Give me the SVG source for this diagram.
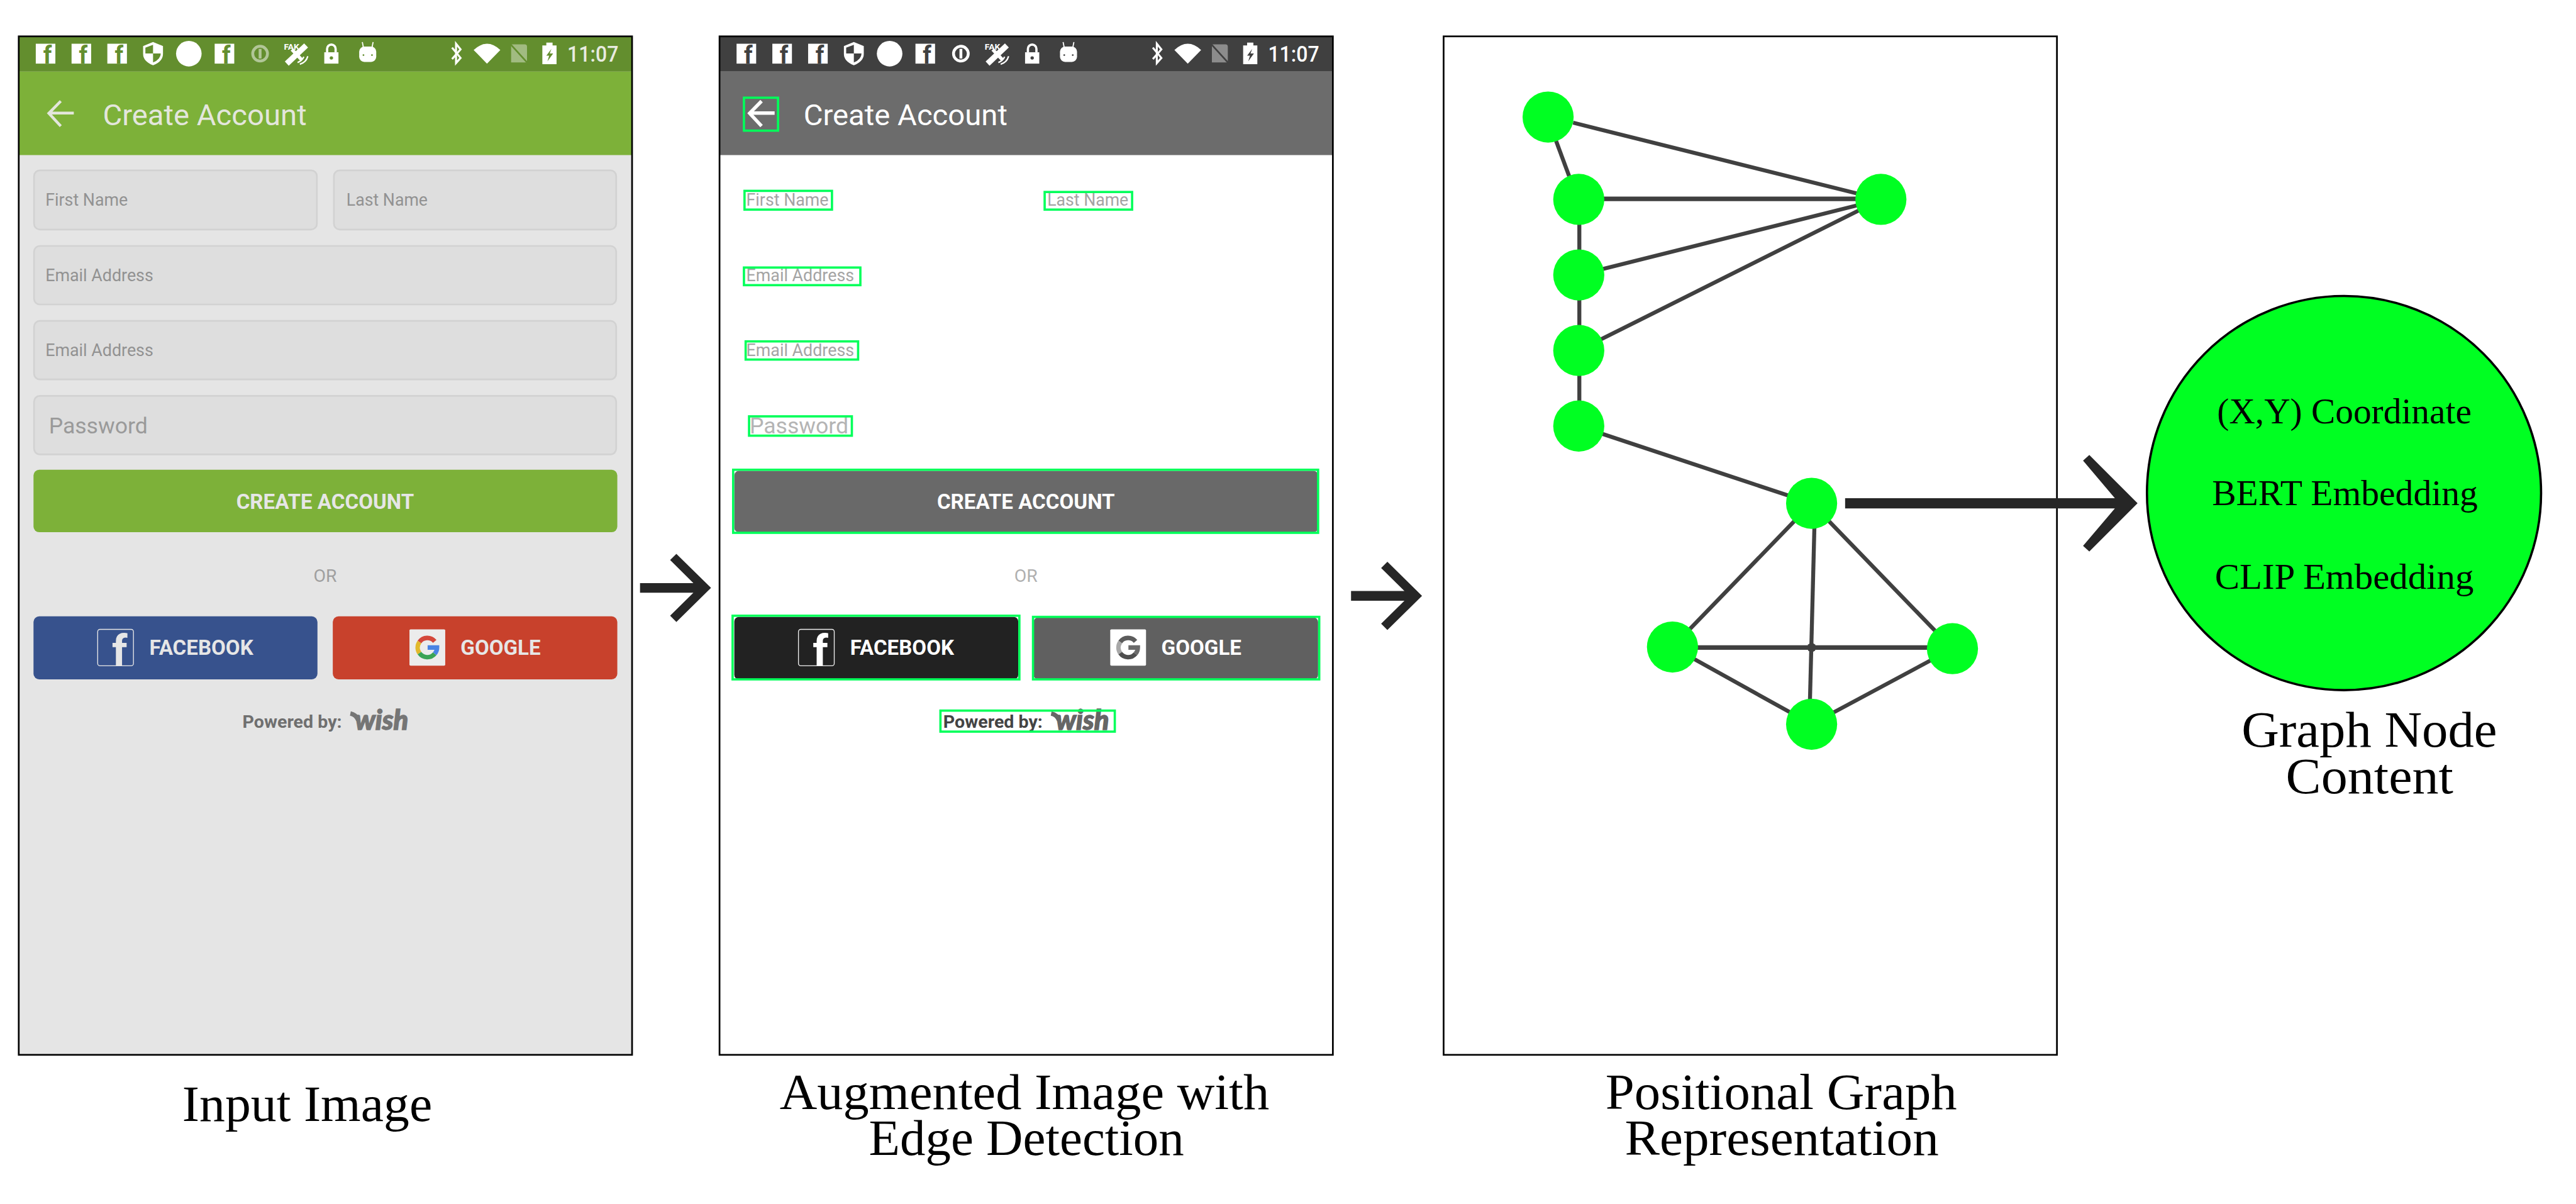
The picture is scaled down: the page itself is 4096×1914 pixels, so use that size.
<svg xmlns="http://www.w3.org/2000/svg" width="4096" height="1914" viewBox="0 0 4096 1914">
<style>
text{font-family:Roboto,"Liberation Sans",sans-serif}
.cap{font-family:"Liberation Serif",serif;font-size:90px;fill:#000}
.in{font-family:"Liberation Serif",serif;font-size:64px;fill:#000}
.frame{fill:none;stroke:#000;stroke-width:3}
.field{fill:#dedede;stroke:#d2d2d2;stroke-width:3}
.ph{font-size:30px;fill:#929292}
.pw{font-size:39px;fill:#9a9a9a}
.a .ph{fill:#929292}
.b .ph{fill:#a4a4a4}
.b .pw{fill:#b4b4b4}
.btn{font-size:36px;font-weight:700}
.a .btn{fill:#e6e6e6}
.b .btn{fill:#fff}
.title{font-size:52px}
.a .title{fill:#e3e6dc}
.b .title{fill:#fff}
.time{font-size:38px;font-weight:500}
.a .time{fill:#e8ebe0}
.b .time{fill:#fff}
.a .w{fill:#fff}
.b .w{fill:#fff}
.a .bar{fill:#638e2e}
.b .bar{fill:#404040}
.ws{fill:none;stroke:#fff}
.a .bs{fill:none;stroke:#638e2e}
.b .bs{fill:none;stroke:#404040}
.fi{font-weight:700;font-size:42px}
.box{fill:none;stroke:#00ff5a;stroke-width:4}
.edge{stroke:#404040;stroke-width:7;fill:none}
.dot{fill:#00ff22}
.arrow{fill:#262626}
</style>
<defs>
<polygon id="arr" points="-125,-8.5 -31,-8.5 -72,-49 -61,-60 0,0 -61,60 -72,49 -31,8.5 -125,8.5"/>
</defs>
<g transform="scale(0.903)">
<rect width="4536" height="2120" fill="#fff"/>

<g id="input-image" class="a">
  <rect x="33" y="64" width="1080" height="1793" fill="#e5e5e5"/>
  <rect x="33" y="64" width="1080" height="62" fill="#638e2e"/>
  <rect x="33" y="126" width="1080" height="147" fill="#7db139"/>
  <g>
    <rect class="w" x="63" y="77" width="34.500" height="35"/><text class="bar fi" x="76" y="112">f</text>
    <rect class="w" x="126" y="77" width="34.500" height="35"/><text class="bar fi" x="139" y="112">f</text>
    <rect class="w" x="189" y="77" width="34.500" height="35"/><text class="bar fi" x="202" y="112">f</text>
    <path class="w" d="M269.500 74L287 81V95Q287 108 269.500 115Q252 108 252 95V81Z"/>
    <path class="bar" d="M256 84L269.500 79V94H256ZM269.500 94H283Q283 104 269.500 110Z"/>
    <circle class="w" cx="332.500" cy="94.500" r="22.500"/>
    <rect class="w" x="378" y="77" width="34.500" height="35"/><text class="bar fi" x="391" y="112">f</text>
    <g opacity="0.5"><circle cx="458" cy="94.500" r="13" class="ws" stroke-width="5"/><rect class="w" x="455.500" y="86" width="5" height="17"/></g>
    <text class="w" x="500" y="87" font-size="14" font-weight="700" textLength="27" lengthAdjust="spacingAndGlyphs">FAK</text>
    <path class="ws" d="M505 112L539 80" stroke-width="10"/>
    <path class="ws" d="M514 87L531 105" stroke-width="6"/>
    <path class="ws" d="M528 113Q539 110 542 99M524 110Q532 107 535 100" stroke-width="2.500"/>
    <path class="w" d="M571 92H596V112H571Z"/><path class="ws" d="M576 92V86A7.500 7.500 0 0 1 591 86V92" stroke-width="4"/><circle class="bar" cx="583.500" cy="102" r="3"/>
    <rect class="w" x="632.500" y="82" width="30" height="27" rx="9"/>
    <path class="ws" d="M638 74L640 84M657 74L655 84" stroke-width="2"/>
    <circle class="bar" cx="640" cy="97" r="1.500"/><circle class="bar" cx="655" cy="97" r="1.500"/>
    <path class="ws" d="M796 84L811 102L803 111V77L811 87L796 104" stroke-width="3.500"/>
    <path class="w" d="M834 88Q857.500 66 881 88L857.500 112Z"/>
    <path class="w" opacity="0.4" d="M900 78H924Q928 78 928 82V110H900Z"/>
    <path class="bs" d="M899 78L931 113" stroke-width="3"/>
    <rect class="w" x="955" y="80" width="25" height="33"/><rect class="w" x="962" y="75" width="11" height="6"/>
    <polygon class="bar" points="971,86 962,98 967,98 964,108 974,94 968,94"/>
    <text class="time" x="999" y="109" textLength="90" lengthAdjust="spacingAndGlyphs">11:07</text>
  </g>
  <path d="M130 199H88M107 178L86 199.500L107 222" fill="none" stroke="#e3e6dc" stroke-width="5"/>
  <text class="title" x="181" y="220" textLength="359" lengthAdjust="spacingAndGlyphs">Create Account</text>
  <rect class="field" x="60" y="300" width="498" height="104" rx="10"/>
  <rect class="field" x="588" y="300" width="497" height="104" rx="10"/>
  <rect class="field" x="60" y="433" width="1025" height="103" rx="10"/>
  <rect class="field" x="60" y="565" width="1025" height="103" rx="10"/>
  <rect class="field" x="60" y="697" width="1025" height="103" rx="10"/>
  <text class="ph" x="80" y="362" textLength="145" lengthAdjust="spacingAndGlyphs">First Name</text>
  <text class="ph" x="610" y="362" textLength="143" lengthAdjust="spacingAndGlyphs">Last Name</text>
  <text class="ph" x="80" y="495" textLength="190" lengthAdjust="spacingAndGlyphs">Email Address</text>
  <text class="ph" x="80" y="627" textLength="190" lengthAdjust="spacingAndGlyphs">Email Address</text>
  <text class="pw" x="86" y="763" textLength="174" lengthAdjust="spacingAndGlyphs">Password</text>
  <rect x="59" y="827" width="1028" height="110" rx="10" fill="#7db139"/>
  <text class="btn" x="416" y="896" textLength="313" lengthAdjust="spacingAndGlyphs">CREATE ACCOUNT</text>
  <text x="552" y="1024" font-size="31" fill="#a0a0a0" textLength="41" lengthAdjust="spacingAndGlyphs">OR</text>
  <rect x="59" y="1085" width="500" height="111" rx="10" fill="#37528d"/>
  <rect x="172" y="1108" width="63" height="64" rx="4" fill="none" stroke="#e6e6e6" stroke-width="1.500"/>
  <text x="197" y="1172" font-size="76" font-weight="700" fill="#e6e6e6">f</text>
  <text class="btn" x="263" y="1153" textLength="183" lengthAdjust="spacingAndGlyphs">FACEBOOK</text>
  <rect x="586" y="1085" width="501" height="111" rx="10" fill="#c8412c"/>
  <rect x="721" y="1108" width="63" height="64" rx="2" fill="#ececec"/>
  <g fill="none" stroke-width="8">
    <path stroke="#d4473a" d="M765.500 1129.100A17 17 0 0 0 738.600 1130.200"/>
    <path stroke="#e2b92c" d="M738.600 1130.200A17 17 0 0 0 738.600 1149.800"/>
    <path stroke="#3aa455" d="M738.600 1149.800A17 17 0 0 0 765.500 1150.900"/>
    <path stroke="#4a84e4" d="M765.500 1150.900A17 17 0 0 0 769.500 1140H753"/>
  </g>
  <text class="btn" x="811" y="1153" textLength="141" lengthAdjust="spacingAndGlyphs">GOOGLE</text>
  <text x="427" y="1281" font-size="30" font-weight="700" fill="#6f6f6f" textLength="175" lengthAdjust="spacingAndGlyphs">Powered by:</text>
  <path d="M617 1256Q627 1258 631 1268" fill="none" stroke="#757575" stroke-width="8"/>
  <text x="625" y="1285" font-size="48" font-weight="900" font-style="italic" fill="#757575" stroke="#757575" stroke-width="1.500" textLength="94" lengthAdjust="spacingAndGlyphs" style="font-family:Lato,sans-serif">wish</text>
  <rect class="frame" x="33" y="64" width="1080" height="1793"/>
</g>

<g id="augmented-image" class="b">
  <rect x="1267" y="64" width="1080" height="62" fill="#404040"/>
  <rect x="1267" y="126" width="1080" height="147" fill="#6c6c6c"/>
  <g transform="translate(1234 0)">
    <rect class="w" x="63" y="77" width="34.500" height="35"/><text class="bar fi" x="76" y="112">f</text>
    <rect class="w" x="126" y="77" width="34.500" height="35"/><text class="bar fi" x="139" y="112">f</text>
    <rect class="w" x="189" y="77" width="34.500" height="35"/><text class="bar fi" x="202" y="112">f</text>
    <path class="w" d="M269.500 74L287 81V95Q287 108 269.500 115Q252 108 252 95V81Z"/>
    <path class="bar" d="M256 84L269.500 79V94H256ZM269.500 94H283Q283 104 269.500 110Z"/>
    <circle class="w" cx="332.500" cy="94.500" r="22.500"/>
    <rect class="w" x="378" y="77" width="34.500" height="35"/><text class="bar fi" x="391" y="112">f</text>
    <circle cx="458" cy="94.500" r="13" class="ws" stroke-width="5"/><rect class="w" x="455.500" y="86" width="5" height="17"/>
    <text class="w" x="500" y="87" font-size="14" font-weight="700" textLength="27" lengthAdjust="spacingAndGlyphs">FAK</text>
    <path class="ws" d="M505 112L539 80" stroke-width="10"/>
    <path class="ws" d="M514 87L531 105" stroke-width="6"/>
    <path class="ws" d="M528 113Q539 110 542 99M524 110Q532 107 535 100" stroke-width="2.500"/>
    <path class="w" d="M571 92H596V112H571Z"/><path class="ws" d="M576 92V86A7.500 7.500 0 0 1 591 86V92" stroke-width="4"/><circle class="bar" cx="583.500" cy="102" r="3"/>
    <rect class="w" x="632.500" y="82" width="30" height="27" rx="9"/>
    <path class="ws" d="M638 74L640 84M657 74L655 84" stroke-width="2"/>
    <circle class="bar" cx="640" cy="97" r="1.500"/><circle class="bar" cx="655" cy="97" r="1.500"/>
    <path class="ws" d="M796 84L811 102L803 111V77L811 87L796 104" stroke-width="3.500"/>
    <path class="w" d="M834 88Q857.500 66 881 88L857.500 112Z"/>
    <path class="w" opacity="0.4" d="M900 78H924Q928 78 928 82V110H900Z"/>
    <path class="bs" d="M899 78L931 113" stroke-width="3"/>
    <rect class="w" x="955" y="80" width="25" height="33"/><rect class="w" x="962" y="75" width="11" height="6"/>
    <polygon class="bar" points="971,86 962,98 967,98 964,108 974,94 968,94"/>
    <text class="time" x="999" y="109" textLength="90" lengthAdjust="spacingAndGlyphs">11:07</text>
  </g>
  <path d="M1364 199H1322M1341 178L1320 199.500L1341 222" fill="none" stroke="#fff" stroke-width="6"/>
  <text class="title" x="1415" y="220" textLength="359" lengthAdjust="spacingAndGlyphs">Create Account</text>
  <text class="ph" x="1314" y="362" textLength="145" lengthAdjust="spacingAndGlyphs">First Name</text>
  <text class="ph" x="1844" y="362" textLength="143" lengthAdjust="spacingAndGlyphs">Last Name</text>
  <text class="ph" x="1314" y="495" textLength="190" lengthAdjust="spacingAndGlyphs">Email Address</text>
  <text class="ph" x="1314" y="627" textLength="190" lengthAdjust="spacingAndGlyphs">Email Address</text>
  <text class="pw" x="1320" y="763" textLength="174" lengthAdjust="spacingAndGlyphs">Password</text>
  <rect x="1293" y="829" width="1028" height="108" rx="8" fill="#696969"/>
  <text class="btn" x="1650" y="896" textLength="313" lengthAdjust="spacingAndGlyphs">CREATE ACCOUNT</text>
  <text x="1786" y="1024" font-size="31" fill="#b0b0b0" textLength="41" lengthAdjust="spacingAndGlyphs">OR</text>
  <rect x="1293" y="1086" width="500" height="110" rx="8" fill="#222"/>
  <rect x="1406" y="1108" width="63" height="64" rx="4" fill="none" stroke="#eee" stroke-width="1.500"/>
  <text x="1431" y="1172" font-size="76" font-weight="700" fill="#fff">f</text>
  <text class="btn" x="1497" y="1153" textLength="183" lengthAdjust="spacingAndGlyphs">FACEBOOK</text>
  <rect x="1820" y="1087" width="501" height="109" rx="8" fill="#606060"/>
  <rect x="1955" y="1108" width="63" height="64" rx="2" fill="#fff"/>
  <g fill="none" stroke-width="8" transform="translate(1234 0)">
    <path stroke="#5c5c5c" d="M765.500 1129.100A17 17 0 0 0 738.600 1130.200"/>
    <path stroke="#a8a8a8" d="M738.600 1130.200A17 17 0 0 0 738.600 1149.800"/>
    <path stroke="#4e4e4e" d="M738.600 1149.800A17 17 0 0 0 765.500 1150.900"/>
    <path stroke="#6a6a6a" d="M765.500 1150.900A17 17 0 0 0 769.500 1140H753"/>
  </g>
  <text class="btn" x="2045" y="1153" textLength="141" lengthAdjust="spacingAndGlyphs">GOOGLE</text>
  <text x="1661" y="1281" font-size="30" font-weight="700" fill="#444" textLength="175" lengthAdjust="spacingAndGlyphs">Powered by:</text>
  <path d="M1851 1256Q1861 1258 1865 1268" fill="none" stroke="#666" stroke-width="8"/>
  <text x="1859" y="1285" font-size="48" font-weight="900" font-style="italic" fill="#666" stroke="#666" stroke-width="1.500" textLength="94" lengthAdjust="spacingAndGlyphs" style="font-family:Lato,sans-serif">wish</text>
  <rect class="box" x="1310" y="172" width="60" height="58"/>
  <rect class="box" x="1311" y="336" width="154" height="33"/>
  <rect class="box" x="1839.500" y="338" width="154" height="31"/>
  <rect class="box" x="1310" y="471" width="205" height="31"/>
  <rect class="box" x="1313" y="601" width="198" height="32"/>
  <rect class="box" x="1319" y="733" width="181" height="34"/>
  <rect class="box" x="1291" y="827" width="1030" height="111"/>
  <rect class="box" x="1290" y="1084" width="505" height="112"/>
  <rect class="box" x="1819" y="1086" width="504" height="110"/>
  <rect class="box" x="1656" y="1251" width="307" height="37"/>
  <rect class="frame" x="1267" y="64" width="1080" height="1793"/>
</g>

<rect id="graph-frame" class="frame" x="2542" y="64" width="1080" height="1793"/>

<g id="connectors">
  <g class="edges">
    <path class="edge" d="M2770 216L3312 351"/>
    <path class="edge" d="M2740 248L2763 310"/>
    <path class="edge" d="M2780 350H3312" style="stroke-width:8"/>
    <path class="edge" d="M2781 351V750"/>
    <path class="edge" d="M2780 484L3312 351"/>
    <path class="edge" d="M2780 617L3312 351"/>
    <path class="edge" d="M2780 750L3190 886"/>
    <path class="edge" d="M3190 886L2945 1139"/>
    <path class="edge" d="M3190 886L3438 1142"/>
    <path class="edge" d="M3196 886L3186 1275"/>
    <path class="edge" d="M2945 1140H3438" style="stroke-width:8"/>
    <path class="edge" d="M2945 1139L3190 1275"/>
    <path class="edge" d="M3438 1142L3190 1275"/>
    <circle cx="3190" cy="1140" r="8" fill="#404040"/>
  </g>
  <use href="#arr" class="arrow" x="1252" y="1035"/>
  <use href="#arr" class="arrow" x="2504" y="1049"/>
  <path class="arrow" d="M3249 877H3724L3668 811L3679 801L3764 886L3679 971L3668 961L3724 895H3249Z"/>
</g>

<g id="graph-nodes">
  <circle id="n1" class="dot" cx="2726" cy="206" r="45"/>
  <circle id="n2" class="dot" cx="2780" cy="351" r="45"/>
  <circle id="n3" class="dot" cx="2780" cy="484" r="45"/>
  <circle id="n4" class="dot" cx="2780" cy="617" r="45"/>
  <circle id="n5" class="dot" cx="2780" cy="750" r="45"/>
  <circle id="n6" class="dot" cx="3312" cy="351" r="45"/>
  <circle id="n7" class="dot" cx="3190" cy="886" r="45"/>
  <circle id="n8" class="dot" cx="2945" cy="1139" r="45"/>
  <circle id="n9" class="dot" cx="3438" cy="1142" r="45"/>
  <circle id="n10" class="dot" cx="3190" cy="1275" r="45"/>
</g>

<g id="graph-node-content">
  <circle cx="4127.500" cy="868" r="347" class="dot" stroke="#000" stroke-width="4"/>
  <text class="in" x="3904" y="745" textLength="448" lengthAdjust="spacingAndGlyphs">(X,Y) Coordinate</text>
  <text class="in" x="3895" y="889" textLength="468" lengthAdjust="spacingAndGlyphs">BERT Embedding</text>
  <text class="in" x="3900" y="1036" textLength="456" lengthAdjust="spacingAndGlyphs">CLIP Embedding</text>
</g>

<g id="captions">
  <text class="cap" x="321" y="1973" textLength="440" lengthAdjust="spacingAndGlyphs">Input Image</text>
  <text class="cap" x="1373" y="1952" textLength="862" lengthAdjust="spacingAndGlyphs">Augmented Image with</text>
  <text class="cap" x="1530" y="2033" textLength="555" lengthAdjust="spacingAndGlyphs">Edge Detection</text>
  <text class="cap" x="2827" y="1952" textLength="619" lengthAdjust="spacingAndGlyphs">Positional Graph</text>
  <text class="cap" x="2861" y="2033" textLength="553" lengthAdjust="spacingAndGlyphs">Representation</text>
  <text class="cap" x="3947" y="1314" textLength="450" lengthAdjust="spacingAndGlyphs">Graph Node</text>
  <text class="cap" x="4025" y="1397" textLength="295" lengthAdjust="spacingAndGlyphs">Content</text>
</g>
</g>
</svg>
